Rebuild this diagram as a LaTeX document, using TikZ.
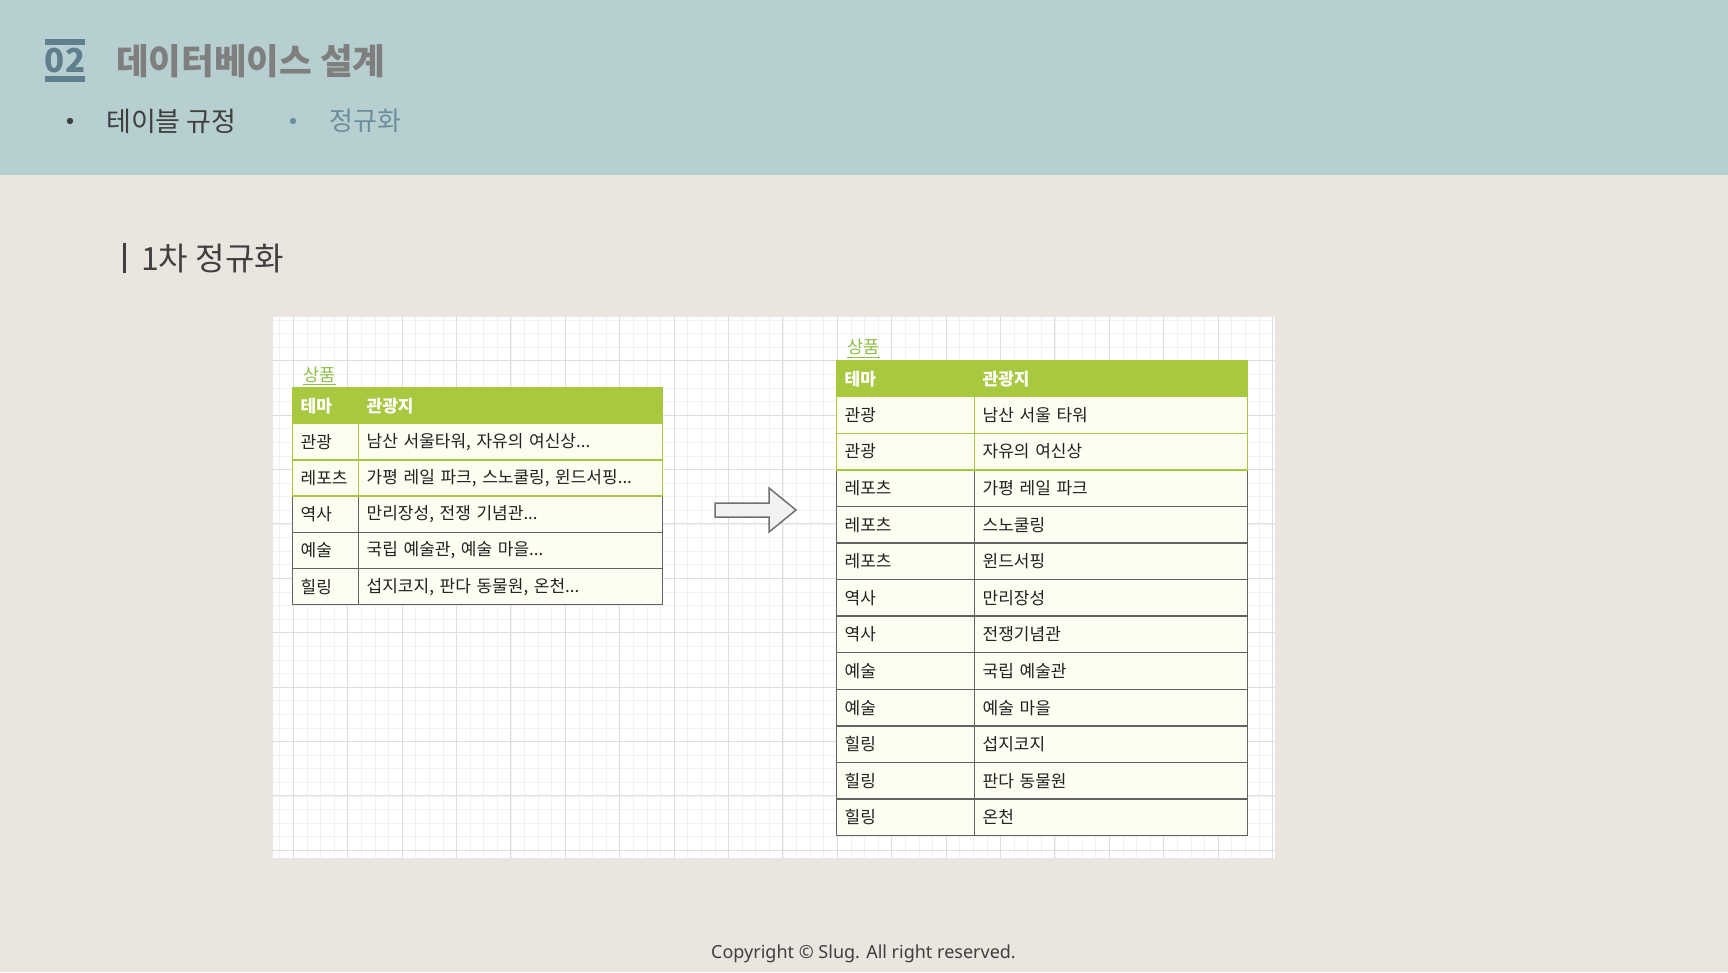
\documentclass[tikz,border=0pt]{standalone}
\usepackage{fontspec}
\setmainfont{Noto Sans CJK KR}
\newfontfamily\latinfont{Noto Sans}
\definecolor{bodybg}{HTML}{EAE5DF}
\definecolor{headbg}{HTML}{B7CFD0}
\definecolor{numcol}{HTML}{5F7F8F}
\definecolor{titlecol}{HTML}{7F7F7F}
\definecolor{subcol}{HTML}{6C8E9C}
\definecolor{txtdark}{HTML}{3F3F3F}
\definecolor{gridminor}{HTML}{F1F1F1}
\definecolor{gridmajor}{HTML}{DEDEDE}
\definecolor{tgreen}{HTML}{A8C83F}
\definecolor{ttitle}{HTML}{8DBE4A}
\definecolor{cellbg}{HTML}{FDFEF2}
\definecolor{borderdark}{HTML}{626262}
\definecolor{celltext}{HTML}{222222}
\definecolor{arrowfill}{HTML}{F2F2F2}
\definecolor{arrowdraw}{HTML}{707070}
\tikzset{
  cellbase/.style={rectangle, inner xsep=8pt, inner ysep=0pt, align=left,
    anchor=north west, font=\fontsize{17}{20}\selectfont, text=celltext, fill=cellbg},
  darkcell/.style={cellbase, draw=borderdark, line width=1.4pt},
  greencell/.style={cellbase, draw=tgreen, line width=1.4pt},
  headcell/.style={cellbase, fill=tgreen, draw=tgreen, line width=1.4pt, text=white,
    font=\fontsize{17}{20}\selectfont\bfseries},
  tabtitle/.style={anchor=west, inner sep=0pt, text=ttitle, font=\fontsize{17.5}{20}\selectfont},
  plain/.style={anchor=west, inner sep=0pt}
}
\newcommand\ltrow[4]{%
  \pgfmathsetmacro\yy{423+(#1-1)*36.2}
  \node[#2, text width=50pt, minimum height=36.2pt] (L#1a) at (292,\yy) {#3};
  \node[#2, text width=288pt, minimum height=36.2pt] (L#1b) at (358,\yy) {#4};
}
\newcommand\rtrow[4]{%
  \pgfmathsetmacro\yy{396+(#1-1)*36.58}
  \node[#2, text width=122pt, minimum height=36.58pt] (R#1a) at (836,\yy) {#3};
  \node[#2, text width=257pt, minimum height=36.58pt] (R#1b) at (974,\yy) {#4};
}
\begin{document}
\begin{tikzpicture}[x=1pt,y=-1pt]
\useasboundingbox (0,0) rectangle (1728,972);
\fill[bodybg] (0,0) rectangle (1728,972);
\fill[headbg] (0,0) rectangle (1728,175);

% header
\fill[numcol] (45,39) rectangle (85,45);
\fill[numcol] (45,76) rectangle (85,82);
\node[inner sep=0pt, text=numcol, font=\fontsize{33}{36}\selectfont\bfseries] (num) at (65,60.5) {02};
\node[plain, text=titlecol, font=\fontsize{35.5}{38}\selectfont\bfseries] (title) at (116,61.5) {데이터베이스 설계};
\fill[txtdark] (70,121) circle (3.2);
\node[plain, text=txtdark, font=\fontsize{27}{30}\selectfont] (sub1) at (106,121) {테이블 규정};
\fill[subcol] (293,121) circle (3.2);
\node[plain, text=subcol, font=\fontsize{26}{29}\selectfont] (sub2) at (329,121) {정규화};

% section title
\fill[txtdark] (122.5,243) rectangle (125.5,273);
\node[plain, text=txtdark, font=\fontsize{32}{35}\selectfont] (sect) at (141,258.5) {1차 정규화};

% grid panel
\fill[white] (273,317) rectangle (1275,858);
\foreach \k in {-1,...,72} {
  \pgfmathsetmacro\xx{293.3+\k*13.6}
  \draw[gridminor, line width=0.8pt] (\xx,317) -- (\xx,858);
}
\foreach \k in {-3,...,36} {
  \pgfmathsetmacro\yy{360.7+\k*13.6}
  \draw[gridminor, line width=0.8pt] (273,\yy) -- (1275,\yy);
}
\foreach \k in {0,...,18} {
  \pgfmathsetmacro\xx{293.3+\k*54.4}
  \draw[gridmajor, line width=0.9pt] (\xx,317) -- (\xx,858);
}
\foreach \k in {0,...,9} {
  \pgfmathsetmacro\yy{360.7+\k*54.4}
  \draw[gridmajor, line width=0.9pt] (273,\yy) -- (1275,\yy);
}

% left table
\node[tabtitle] (ltitle) at (303,374.5) {상품};
\draw[ttitle, line width=1pt] ([yshift=-2pt]ltitle.south west) -- ([yshift=-2pt]ltitle.south east);
\ltrow{3}{darkcell}{역사}{만리장성, 전쟁 기념관...}
\ltrow{4}{darkcell}{예술}{국립 예술관, 예술 마을...}
\ltrow{5}{darkcell}{힐링}{섭지코지, 판다 동물원, 온천...}
\ltrow{1}{greencell}{관광}{남산 서울타워, 자유의 여신상...}
\ltrow{2}{greencell}{레포츠}{가평 레일 파크, 스노쿨링, 윈드서핑...}
\node[headcell, text width=50pt, minimum height=36pt] (LHa) at (292,387) {테마};
\node[headcell, text width=288pt, minimum height=36pt] (LHb) at (358,387) {관광지};

% arrow
\filldraw[fill=arrowfill, draw=arrowdraw, line width=1.5pt, line join=miter]
  (715,503) -- (769,503) -- (769,488) -- (796,510) -- (769,532) -- (769,517) -- (715,517) -- cycle;

% right table
\node[tabtitle] (rtitle) at (847,347) {상품};
\draw[ttitle, line width=1pt] ([yshift=-2pt]rtitle.south west) -- ([yshift=-2pt]rtitle.south east);
\rtrow{3}{darkcell}{레포츠}{가평 레일 파크}
\rtrow{4}{darkcell}{레포츠}{스노쿨링}
\rtrow{5}{darkcell}{레포츠}{윈드서핑}
\rtrow{6}{darkcell}{역사}{만리장성}
\rtrow{7}{darkcell}{역사}{전쟁기념관}
\rtrow{8}{darkcell}{예술}{국립 예술관}
\rtrow{9}{darkcell}{예술}{예술 마을}
\rtrow{10}{darkcell}{힐링}{섭지코지}
\rtrow{11}{darkcell}{힐링}{판다 동물원}
\rtrow{12}{darkcell}{힐링}{온천}
\rtrow{1}{greencell}{관광}{남산 서울 타워}
\rtrow{2}{greencell}{관광}{자유의 여신상}
\node[headcell, text width=122pt, minimum height=36pt] (RHa) at (836,360) {테마};
\node[headcell, text width=257pt, minimum height=36pt] (RHb) at (974,360) {관광지};

% footer
\node[inner sep=0pt, text=txtdark, font=\latinfont\fontsize{18}{21}\selectfont] (copy) at (863.5,953.5) {Copyright © Slug. All right reserved.};
\end{tikzpicture}
\end{document}
